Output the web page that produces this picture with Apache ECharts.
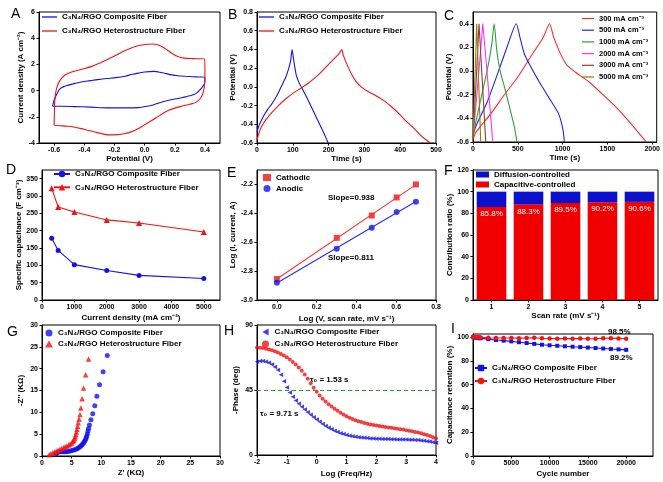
<!DOCTYPE html>
<html><head><meta charset="utf-8">
<script src="https://cdn.jsdelivr.net/npm/echarts@6/dist/echarts.min.js"></script>
<style>html,body{margin:0;padding:0;background:#fff}#c{width:663px;height:482px}</style>
</head><body><div id="c"></div>
<script>
// ================= DATA =================
// A: cyclic voltammetry [potential V, current density A cm-2]
const cvComposite = [[-0.61,-1.2],[-0.6,-0.74],[-0.58,-0.23],[-0.56,0.15],[-0.53,0.33],[-0.51,0.4],[-0.46,0.55],[-0.42,0.66],[-0.36,0.76],[-0.31,0.84],[-0.25,0.92],[-0.19,0.99],[-0.13,1.1],[-0.08,1.25],[-0.03,1.36],[0.0,1.42],[0.06,1.47],[0.12,1.36],[0.18,1.2],[0.22,1.13],[0.27,1.09],[0.32,1.06],[0.36,1.04],[0.4,1.02],[0.4,0.66],[0.385,0.3],[0.37,0.1],[0.34,-0.23],[0.3,-0.4],[0.27,-0.48],[0.22,-0.6],[0.16,-0.74],[0.1,-0.92],[0.05,-1.12],[0.0,-1.22],[-0.04,-1.3],[-0.13,-1.32],[-0.24,-1.32],[-0.36,-1.26],[-0.47,-1.22],[-0.55,-1.2],[-0.61,-1.2]];
const cvHetero = [[-0.6,-2.65],[-0.598,-1.8],[-0.596,-0.9],[-0.59,-0.2],[-0.58,0.3],[-0.56,0.8],[-0.53,1.17],[-0.5,1.35],[-0.46,1.5],[-0.4,1.68],[-0.35,1.85],[-0.3,2.08],[-0.25,2.35],[-0.19,2.7],[-0.14,3.0],[-0.1,3.2],[-0.05,3.4],[0.0,3.52],[0.05,3.56],[0.09,3.48],[0.12,3.33],[0.15,3.1],[0.18,2.85],[0.22,2.6],[0.26,2.48],[0.32,2.44],[0.36,2.43],[0.397,2.42],[0.4,1.5],[0.398,0.6],[0.39,-0.1],[0.37,-0.6],[0.34,-0.9],[0.3,-1.04],[0.25,-1.18],[0.21,-1.3],[0.16,-1.5],[0.12,-1.75],[0.08,-2.05],[0.05,-2.26],[0.0,-2.6],[-0.04,-2.9],[-0.09,-3.15],[-0.13,-3.28],[-0.18,-3.36],[-0.24,-3.38],[-0.29,-3.28],[-0.33,-3.16],[-0.38,-3.02],[-0.42,-2.9],[-0.47,-2.78],[-0.51,-2.72],[-0.56,-2.68],[-0.6,-2.65]];
const cvPotentialTicks = [-0.6,-0.4,-0.2,0.0,0.2,0.4];

// B: GCD [time s, potential V]
const gcdComposite = [[0,-0.48],[5,-0.42],[12,-0.36],[20,-0.3],[30,-0.24],[40,-0.19],[50,-0.13],[60,-0.06],[70,0.02],[80,0.1],[88,0.19],[94,0.28],[98,0.4],[102,0.3],[106,0.2],[110,0.12],[118,0.04],[128,-0.03],[140,-0.12],[155,-0.24],[170,-0.36],[185,-0.48],[199,-0.6]];
const gcdHetero = [[0,-0.57],[5,-0.5],[12,-0.43],[25,-0.35],[40,-0.28],[60,-0.2],[80,-0.13],[100,-0.07],[120,-0.02],[140,0.03],[160,0.09],[180,0.16],[200,0.24],[215,0.3],[228,0.35],[237,0.4],[240,0.35],[248,0.27],[256,0.2],[265,0.13],[278,0.05],[291,0.0],[310,-0.05],[330,-0.09],[355,-0.15],[375,-0.21],[395,-0.28],[415,-0.36],[435,-0.43],[455,-0.51],[470,-0.56],[485,-0.6]];

// C: GCD at different current densities
const rateNames = ['300 mA cm\u207B\u00B3','500 mA cm\u207B\u00B3','1000 mA cm\u207B\u00B3','2000 mA cm\u207B\u00B3','3000 mA cm\u207B\u00B3','5000 mA cm\u207B\u00B3'];
const gcd300 = [[0,-0.58],[30,-0.52],[80,-0.47],[200,-0.36],[350,-0.2],[500,-0.05],[650,0.13],[780,0.28],[855,0.4],[899,0.29],[974,0.15],[1048,0.05],[1143,-0.01],[1292,-0.09],[1480,-0.22],[1629,-0.33],[1779,-0.46],[1891,-0.56],[1936,-0.6]];
const gcd500 = [[0,-0.55],[20,-0.49],[60,-0.42],[154,-0.27],[285,0.0],[378,0.2],[483,0.4],[524,0.285],[573,0.145],[637,0.047],[730,-0.08],[843,-0.22],[955,-0.36],[1005,-0.5],[1020,-0.6]];
const gcd1000 = [[0,-0.55],[60,-0.33],[116,-0.14],[172,0.06],[210,0.23],[236,0.4],[266,0.17],[303,0.0],[360,-0.16],[416,-0.33],[461,-0.47],[491,-0.6]];
const gcd2000 = [[0,-0.56],[41,-0.22],[79,0.12],[109,0.4],[146,0.09],[183,-0.25],[221,-0.6]];
const gcd3000 = [[0,-0.57],[34,-0.1],[67,0.4],[105,-0.1],[142,-0.6]];
const gcd5000 = [[0,-0.57],[41,0.4],[86,-0.6]];

// D: specific capacitance vs current density
const currentDensity = [300,500,1000,2000,3000,5000];
const capComposite = [178,143,102,85,71,62];
const capHetero = [322,268,254,231,222,196];

// E: log(i) vs log(v)
const logScanRate = [0,0.301,0.477,0.602,0.699];
const logCathodic = [-2.855,-2.57,-2.415,-2.29,-2.2];
const logAnodic = [-2.88,-2.645,-2.50,-2.39,-2.32];
const logScanTicks = [0.0,0.2,0.4,0.6,0.8];

// F: contribution ratio
const scanRates = ['1','2','3','4','5'];
const capacitivePct = [85.8,88.3,89.5,90.2,90.6];
const diffusionPct = [14.2,11.7,10.5,9.8,9.4];

// G: Nyquist [Z', -Z''] (kOhm)
const nyqComposite = [[2.3,0.4],[2.5,0.7],[2.8,0.9],[3.1,1.0],[3.4,1.0],[3.7,1.0],[4.0,1.0],[4.3,1.05],[4.6,1.1],[4.9,1.2],[5.2,1.3],[5.5,1.45],[5.8,1.6],[6.05,1.8],[6.3,2.0],[6.5,2.25],[6.7,2.5],[6.9,2.8],[7.05,3.1],[7.2,3.45],[7.35,3.8],[7.45,4.2],[7.55,4.6],[7.65,5.1],[7.75,5.7],[7.85,6.3],[8.0,7.1],[8.25,8.3],[8.55,9.7],[8.9,11.5],[9.25,13.7],[9.7,16.3],[10.3,19.3],[11.0,23.0]];
const nyqHetero = [[1.2,0.3],[1.5,0.5],[1.8,0.7],[2.1,0.9],[2.4,1.1],[2.7,1.3],[3.0,1.5],[3.3,1.7],[3.6,1.9],[3.9,2.1],[4.2,2.3],[4.5,2.5],[4.75,2.75],[5.0,3.0],[5.2,3.3],[5.35,3.6],[5.5,4.0],[5.6,4.4],[5.7,4.9],[5.8,5.5],[5.9,6.1],[6.0,6.8],[6.1,7.6],[6.25,8.5],[6.4,9.5],[6.55,11.0],[6.75,13.1],[7.0,15.6],[7.35,18.6],[7.85,22.2]];

// H: Bode phase
const logFreq = [-2.0,-1.9,-1.8,-1.7,-1.6,-1.5,-1.4,-1.3,-1.2,-1.1,-1.0,-0.9,-0.8,-0.7,-0.6,-0.5,-0.4,-0.3,-0.2,-0.1,0.0,0.1,0.2,0.3,0.4,0.5,0.6,0.7,0.8,0.9,1.0,1.1,1.2,1.3,1.4,1.5,1.6,1.7,1.8,1.9,2.0,2.1,2.2,2.3,2.4,2.5,2.6,2.7,2.8,2.9,3.0,3.1,3.2,3.3,3.4,3.5,3.6,3.7,3.8,3.9,4.0];
const phaseComposite = [64.6,65.0,65.0,64.6,63.8,62.6,61.0,58.8,55.5,51.0,46.8,43.3,40.3,37.8,35.5,33.4,31.5,29.6,27.9,26.2,24.6,23.0,21.5,20.1,18.9,17.8,16.8,15.9,15.1,14.5,13.9,13.4,13.0,12.6,12.3,12.1,11.9,11.7,11.5,11.4,11.3,11.2,11.1,11.0,11.0,10.9,10.9,10.8,10.8,10.7,10.7,10.6,10.5,10.4,10.3,10.1,9.9,9.6,9.3,8.9,8.5];
const phaseHetero = [74.5,74.3,74.0,73.6,73.1,72.5,71.8,71.0,70.0,68.9,67.6,66.1,64.4,62.6,60.6,58.4,55.8,52.8,49.6,46.6,43.8,41.2,39.0,37.0,35.2,33.5,32.0,30.6,29.3,28.0,26.8,25.8,24.9,24.1,23.4,22.8,22.2,21.7,21.2,20.8,20.4,20.0,19.7,19.4,19.1,18.8,18.5,18.2,17.9,17.6,17.2,16.8,16.4,16.0,15.5,15.0,14.4,13.8,13.1,12.3,11.5];

// I: cycling stability
const cycles = [0,200,400,600,800,1000,2000,3000,4000,5000,6000,7000,8000,9000,10000,11000,12000,13000,14000,15000,16000,17000,18000,19000,20000];
const retComposite = [100,99.6,99.4,99.2,99.0,98.9,98.2,97.5,96.9,96.3,95.6,94.9,94.2,93.5,93.0,92.6,92.2,91.8,91.5,91.1,90.7,90.3,89.9,89.6,89.2];
const retHetero = [100,100,99.9,99.8,99.7,99.6,99.4,99.2,99.1,99.2,99.0,99.1,99.3,98.9,98.7,98.6,98.7,98.6,98.7,98.5,98.6,98.9,99.0,98.8,98.5];

const compName = 'C\u2083N\u2084/RGO Composite Fiber';
const hetName = 'C\u2083N\u2084/RGO Heterostructure Fiber';

// ================= BUILD =================
const FONT = 'Liberation Sans, Arial, Helvetica, sans-serif';
const BLUE = '#1212f0', RED = '#f51212';
const RATE_COLORS = ['#ff2a2a','#2222f0','#2e9e3a','#ff33ff','#993838','#8f7f00'];
const LEFT_TRI = 'path://M0,5L9,0L9,10Z';
const zip = (xs, ys) => xs.map((x, i) => [x, ys[i]]);
const f1 = v => v.toFixed(1);
const plain = v => String(v);

const LABEL = {
  A1: compName, A2: hetName, B1: compName, B2: hetName,
  D1: compName, D2: hetName, E1: 'Cathodic', E2: 'Anodic',
  F1: 'Diffusion-controlled', F2: 'Capacitive-controlled',
  G1: compName, G2: hetName, H1: compName, H2: hetName, I1: compName, I2: hetName
};
rateNames.forEach((n, i) => LABEL['C' + (i + 1)] = n);

const grids = [
  {left:39, top:12, width:181, height:131},
  {left:257, top:12, width:179, height:131},
  {left:473, top:12, width:185, height:130},
  {left:42, top:170, width:178, height:130},
  {left:257, top:170, width:179, height:130},
  {left:473, top:170, width:185, height:130},
  {left:42, top:325, width:178, height:131},
  {left:257, top:325, width:179, height:130},
  {left:473, top:334, width:180, height:122}
].map(g => Object.assign({show:true, borderColor:'#000', borderWidth:1, backgroundColor:'transparent'}, g));

function axis(gi, o) {
  const a = {
    gridIndex: gi, type: o.type || 'value', min: o.min, max: o.max, interval: o.interval,
    name: o.name, nameLocation: 'middle', nameGap: o.gap,
    nameTextStyle: {color:'#000', fontSize:8, fontWeight:'bold', fontFamily:FONT},
    axisLine: {show:true, onZero:false, lineStyle:{color:'#000', width:1}},
    axisTick: {show:true, inside:false, length:2.5, lineStyle:{color:'#000', width:1}},
    splitLine: {show:false},
    axisLabel: {color:'#000', fontSize:7, fontWeight:'bold', fontFamily:FONT, margin:4,
      showMaxLabel: o.hideMax ? false : null, formatter: o.type === 'category' ? null : (o.fmt || plain)},
    data: o.data
  };
  if (o.custom) { a.axisLabel.customValues = o.custom; a.axisTick.customValues = o.custom; }
  if (o.type === 'category') { a.axisTick.alignWithLabel = true; }
  return a;
}

const xAxis = [
  axis(0, {min:-0.7, max:0.5, custom:cvPotentialTicks, fmt:f1, name:'Potential (V)', gap:9}),
  axis(1, {min:0, max:500, interval:100, name:'Time (s)', gap:9}),
  axis(2, {min:0, max:2050, interval:500, hideMax:true, name:'Time (s)', gap:9}),
  axis(3, {min:0, max:5500, interval:1000, hideMax:true, name:'Current density (mA cm\u207B\u00B2)', gap:14}),
  axis(4, {min:-0.1, max:0.8, custom:logScanTicks, fmt:f1, name:'Log (V, scan rate, mV s\u207B\u00B9)', gap:15}),
  axis(5, {type:'category', data:scanRates, name:'Scan rate (mV s\u207B\u00B9)', gap:11}),
  axis(6, {min:0, max:30, interval:5, name:"Z' (K\u03A9)", gap:13}),
  axis(7, {min:-2, max:4, interval:1, name:'Log (Freq/Hz)', gap:15}),
  axis(8, {min:0, max:23500, interval:5000, hideMax:true, name:'Cycle number', gap:14})
];
const yAxis = [
  axis(0, {min:-4, max:6, interval:2, name:'Current density (A cm\u207B\u00B2)', gap:10}),
  axis(1, {min:-0.6, max:0.8, interval:0.2, fmt:f1, name:'Potential (V)', gap:17}),
  axis(2, {min:-0.6, max:0.5, interval:0.2, hideMax:true, fmt:f1, name:'Potential (V)', gap:20}),
  axis(3, {min:0, max:375, interval:50, hideMax:true, name:'Specific capacitance (F cm\u207B\u00B3)', gap:19}),
  axis(4, {min:-3.0, max:-2.1, interval:0.2, hideMax:true, fmt:f1, name:'Log (I, current, A)', gap:19}),
  axis(5, {min:0, max:120, interval:20, name:'Contribution ratio (%)', gap:16}),
  axis(6, {min:0, max:30, interval:5, name:"-Z'' (K\u03A9)", gap:17}),
  axis(7, {min:0, max:90, interval:45, name:'-Phase (deg)', gap:17}),
  axis(8, {min:0, max:102.5, interval:20, hideMax:true, name:'Capacitance retention (%)', gap:16})
];

function linFit(xs, ys) {
  const n = xs.length;
  const mx = xs.reduce((a, b) => a + b, 0) / n, my = ys.reduce((a, b) => a + b, 0) / n;
  let sxy = 0, sxx = 0;
  for (let i = 0; i < n; i++) { sxy += (xs[i] - mx) * (ys[i] - my); sxx += (xs[i] - mx) ** 2; }
  const b = sxy / sxx, a = my - b * mx;
  const x0 = Math.min(...xs), x1 = Math.max(...xs);
  return [[x0, a + b * x0], [x1, a + b * x1]];
}

const lineS = (name, gi, data, color, extra) => Object.assign({
  name, type:'line', xAxisIndex:gi, yAxisIndex:gi, data, symbol:'none',
  lineStyle:{color, width:1.1}, itemStyle:{color}, silent:true, animation:false
}, extra || {});
const scatS = (name, gi, data, color, symbol, size, extra) => Object.assign({
  name, type:'scatter', xAxisIndex:gi, yAxisIndex:gi, data, symbol, symbolSize:size,
  itemStyle:{color}, silent:true, animation:false
}, extra || {});

const cSeries = [gcd300, gcd500, gcd1000, gcd2000, gcd3000, gcd5000];

const series = [
  lineS('A1', 0, cvComposite, BLUE, {smooth:0.3}),
  lineS('A2', 0, cvHetero, RED, {smooth:0.3}),
  lineS('B1', 1, gcdComposite, BLUE, {smooth:0.2}),
  lineS('B2', 1, gcdHetero, RED, {smooth:0.2}),
  ...cSeries.map((d, i) => lineS('C' + (i + 1), 2, d, RATE_COLORS[i], {smooth: i < 3 ? 0.2 : false})),
  lineS('D1', 3, zip(currentDensity, capComposite), BLUE, {symbol:'circle', symbolSize:5}),
  lineS('D2', 3, zip(currentDensity, capHetero), RED, {symbol:'triangle', symbolSize:6}),
  lineS('Efit1', 4, linFit(logScanRate, logCathodic), '#ff3030'),
  lineS('Efit2', 4, linFit(logScanRate, logAnodic), '#2a2af0'),
  scatS('E1', 4, zip(logScanRate, logCathodic), RED, 'rect', 6),
  scatS('E2', 4, zip(logScanRate, logAnodic), BLUE, 'circle', 6),
  {name:'F2', type:'bar', xAxisIndex:5, yAxisIndex:5, stack:'F', data:capacitivePct, barWidth:'80%',
   itemStyle:{color:'#f00000'}, silent:true, animation:false,
   label:{show:true, position:'insideTop', distance:3, formatter:p => p.value + '%', color:'#fff', fontSize:8, fontFamily:FONT}},
  {name:'F1', type:'bar', xAxisIndex:5, yAxisIndex:5, stack:'F', data:diffusionPct, barWidth:'80%',
   itemStyle:{color:'#0a10cc'}, silent:true, animation:false},
  scatS('G1', 6, nyqComposite, BLUE, 'circle', 5),
  scatS('G2', 6, nyqHetero, RED, 'triangle', 5.5),
  scatS('H1', 7, zip(logFreq, phaseComposite), BLUE, LEFT_TRI, 4.5, {
    markLine:{silent:true, symbol:'none', label:{show:false}, data:[{yAxis:45}],
      lineStyle:{color:'#2a9a2a', type:[4,3], width:1}, animation:false}}),
  scatS('H2', 7, zip(logFreq, phaseHetero), RED, 'circle', 4),
  lineS('I1', 8, zip(cycles, retComposite), BLUE, {symbol:'rect', symbolSize:4}),
  lineS('I2', 8, zip(cycles, retHetero), RED, {symbol:'circle', symbolSize:4.5})
];

function lg(left, top, names, o) {
  return Object.assign({
    left, top, orient:'vertical', data:names, selectedMode:false, padding:0,
    itemWidth:14, itemHeight:8, itemGap:4,
    textStyle:{fontSize:8, fontWeight:'bold', color:'#000', fontFamily:FONT, lineHeight:10},
    formatter: n => LABEL[n]
  }, o || {});
}
const legend = [
  lg(42, 12, ['A1','A2'], {icon:'rect', itemHeight:1.3, itemWidth:15, itemGap:4}),
  lg(259, 12, ['B1','B2'], {icon:'rect', itemHeight:1.3, itemWidth:15, itemGap:4}),
  lg(582, 14, ['C1','C2','C3','C4','C5','C6'], {icon:'rect', itemHeight:1.2, itemWidth:12, itemGap:2.7,
    textStyle:{fontSize:7.5, fontWeight:'bold', color:'#000', fontFamily:FONT, lineHeight:9}}),
  lg(53, 169, ['D1','D2'], {itemWidth:16, itemGap:3.3}),
  lg(263, 173, ['E1','E2'], {itemWidth:8, itemHeight:7, itemGap:2,
    textStyle:{fontSize:8, fontWeight:'bold', color:'#000', fontFamily:FONT, lineHeight:9}}),
  lg(476, 170, ['F1','F2'], {itemWidth:13, itemHeight:6, itemGap:1, icon:'rect',
    textStyle:{fontSize:8, fontWeight:'bold', color:'#000', fontFamily:FONT, lineHeight:9}}),
  lg(45, 328.5, ['G1','G2'], {itemWidth:8, itemHeight:7, itemGap:2,
    textStyle:{fontSize:8, fontWeight:'bold', color:'#000', fontFamily:FONT, lineHeight:9}}),
  lg(262, 327.5, ['H1','H2'], {itemWidth:8, itemHeight:7, itemGap:3,
    textStyle:{fontSize:8, fontWeight:'bold', color:'#000', fontFamily:FONT, lineHeight:9}}),
  lg(474, 363, ['I1','I2'], {itemWidth:12, itemGap:3})
];

const txt = (text, left, top, size, bold) => ({type:'text', left, top, silent:true,
  style:{text, fontSize:size, fontWeight: bold ? 'bold' : 'normal', fontFamily:FONT, fill:'#000'}});
const graphic = [
  txt('A', 11, 7, 14), txt('B', 228, 8, 14), txt('C', 444, 9, 14),
  txt('D', 6, 163, 14), txt('E', 227, 166, 14), txt('F', 444, 164, 14),
  txt('G', 7, 325, 14), txt('H', 224, 324, 14), txt('I', 451, 322, 14),
  txt('Slope=0.938', 328, 193.5, 8, true), txt('Slope=0.811', 328, 253.5, 8, true),
  txt('\u03C4\u2080 = 1.53 s', 310, 375.5, 8, true), txt('\u03C4\u2080 = 9.71 s', 260, 409.5, 8, true),
  txt('98.5%', 608, 327.5, 8, true), txt('89.2%', 610, 353.5, 8, true)
];

const chart = echarts.init(document.getElementById('c'), null, {renderer:'canvas'});
chart.setOption({
  animation:false, backgroundColor:'#fff',
  textStyle:{fontFamily:FONT},
  grid: grids, xAxis, yAxis, series, legend, graphic
});
</script></body></html>
